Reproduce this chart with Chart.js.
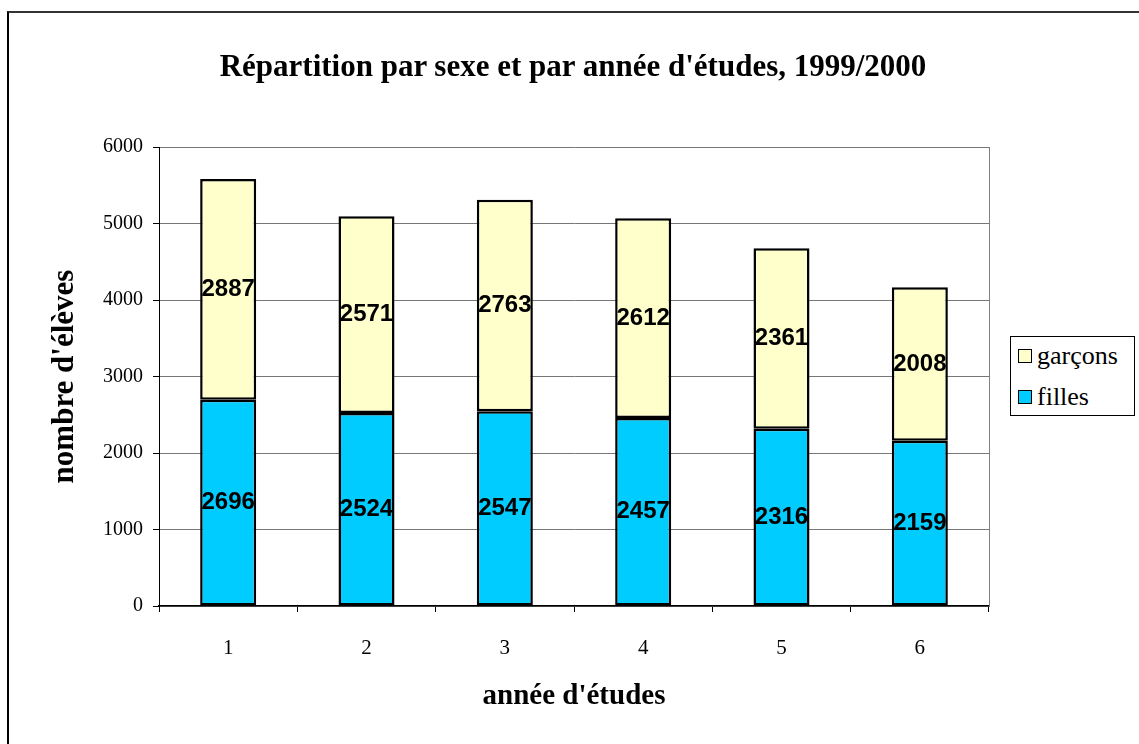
<!DOCTYPE html>
<html>
<head>
<meta charset="utf-8">
<script src="https://cdn.jsdelivr.net/npm/chart.js@4"></script>
<style>
  body { margin: 0; background: #fff; }
  #wrap { position: relative; width: 1139px; height: 744px; overflow: hidden; }
  #frame { position: absolute; left: 7px; top: 11px; width: 1300px; height: 900px;
           border-left: 2px solid #000; border-top: 2px solid #333; }
  #chart { position: absolute; left: 0; top: 0; }
  #title { position: absolute; left: 0; top: 48px; width: 1146px; text-align: center;
           font-family: "Liberation Serif", serif; font-weight: bold; font-size: 31px;
           line-height: 36px; color: #000; }
  #legend { position: absolute; left: 1010px; top: 336px; width: 125px; height: 80px;
            border: 1px solid #000; box-sizing: border-box; background: #fff;
            font-family: "Liberation Serif", serif; font-size: 26px; color: #000; }
  .item { position: absolute; left: 7px; height: 30px; line-height: 30px; white-space: nowrap; }
  .box { display: inline-block; width: 12px; height: 12px; border: 1.5px solid #000;
         margin-right: 5px; vertical-align: 1px; }
</style>
</head>
<body>
<div id="wrap">
  <div id="frame"></div>
  <canvas id="chart" width="1139" height="744"></canvas>
  <div id="title">Répartition par sexe et par année d'études, 1999/2000</div>
  <div id="legend"></div>
</div>
<script>
// data
const categories = ['1', '2', '3', '4', '5', '6'];
const filles = [2696, 2524, 2547, 2457, 2316, 2159];
const garcons = [2887, 2571, 2763, 2612, 2361, 2008];
const yTicks = [0, 1000, 2000, 3000, 4000, 5000, 6000];

const colFilles = '#00CCFF';
const colGarcons = '#FFFFCC';

// draw the value in the middle of each bar segment
const valueLabels = {
    id: 'valueLabels',
    afterDatasetsDraw(chart) {
        const ctx = chart.ctx;
        ctx.save();
        ctx.font = 'bold 24px "Liberation Sans", Arial, sans-serif';
        ctx.fillStyle = '#000';
        ctx.textAlign = 'center';
        ctx.textBaseline = 'middle';
        chart.data.datasets.forEach((ds, i) => {
            chart.getDatasetMeta(i).data.forEach((bar, j) => {
                ctx.fillText(String(ds.data[j]), bar.x, (bar.y + bar.base) / 2);
            });
        });
        ctx.restore();
    }
};

// gray right edge of the plot area
const plotBorder = {
    id: 'plotBorder',
    beforeDatasetsDraw(chart) {
        const { ctx, chartArea } = chart;
        ctx.save();
        ctx.strokeStyle = '#808080';
        ctx.lineWidth = 1;
        ctx.beginPath();
        ctx.moveTo(chartArea.right + 0.5, chartArea.top);
        ctx.lineTo(chartArea.right + 0.5, chartArea.bottom);
        ctx.stroke();
        ctx.restore();
    }
};

const chart = new Chart(document.getElementById('chart'), {
    type: 'bar',
    data: {
        labels: categories,
        datasets: [
            {
                label: 'filles',
                data: filles,
                backgroundColor: colFilles,
                borderColor: '#000',
                borderWidth: 2.5,
                borderSkipped: false,
                categoryPercentage: 0.81,
                barPercentage: 0.5
            },
            {
                label: 'garçons',
                data: garcons,
                backgroundColor: colGarcons,
                borderColor: '#000',
                borderWidth: 2.5,
                borderSkipped: false,
                categoryPercentage: 0.81,
                barPercentage: 0.5
            }
        ]
    },
    options: {
        responsive: false,
        animation: false,
        layout: { padding: { left: 0, right: 150, top: 147, bottom: 0 } },
        plugins: {
            legend: { display: false },
            tooltip: { enabled: false }
        },
        scales: {
            x: {
                stacked: true,
                afterFit(scale) { scale.height = 138; },
                grid: {
                    display: true,
                    drawOnChartArea: false,
                    offset: true,
                    tickLength: 6,
                    tickColor: '#000'
                },
                border: { color: '#000', width: 1.5 },
                ticks: {
                    color: '#000',
                    padding: 24,
                    font: { family: '"Liberation Serif", serif', size: 21 }
                },
                title: {
                    display: true,
                    text: "année d'études",
                    color: '#000',
                    font: { family: '"Liberation Serif", serif', size: 29, weight: 'bold' },
                    padding: { top: 0, bottom: 30 }
                }
            },
            y: {
                stacked: true,
                min: 0,
                max: 6000,
                afterFit(scale) { scale.width = 159; },
                afterBuildTicks(scale) { scale.ticks = yTicks.map(v => ({ value: v })); },
                grid: {
                    color: '#777',
                    tickLength: 6,
                    tickColor: '#000'
                },
                border: { color: '#000', width: 1 },
                ticks: {
                    color: '#000',
                    padding: 10,
                    font: { family: '"Liberation Serif", serif', size: 20 },
                    callback: v => String(v)
                },
                title: {
                    display: true,
                    text: "nombre d'élèves",
                    color: '#000',
                    font: { family: '"Liberation Serif", serif', size: 31, weight: 'bold' },
                    padding: { top: 46, bottom: 0 }
                }
            }
        }
    },
    plugins: [valueLabels, plotBorder]
});

// legend: garçons on top, filles below, like the original
const legend = document.getElementById('legend');
chart.data.datasets.slice().reverse().forEach((ds, i) => {
    const item = document.createElement('div');
    item.className = 'item';
    item.style.top = (4 + i * 41) + 'px';
    const box = document.createElement('span');
    box.className = 'box';
    box.style.background = ds.backgroundColor;
    item.appendChild(box);
    item.appendChild(document.createTextNode(ds.label));
    legend.appendChild(item);
});
</script>
</body>
</html>
